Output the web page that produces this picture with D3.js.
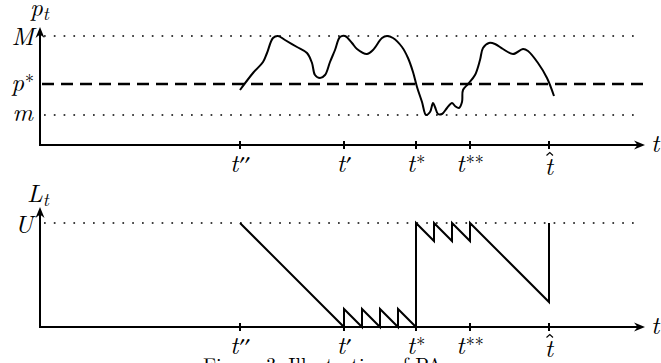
<!DOCTYPE html>
<html>
<head>
<meta charset="utf-8">
<script src="https://cdn.jsdelivr.net/npm/d3@7"></script>
<style>
  body { margin: 0; background: #fff; }
  svg { display: block; }
</style>
</head>
<body>
<svg id="chart" width="661" height="363"></svg>
<script>
// price path p_t (time, price)
var priceT = [200, 213, 223, 227, 233, 238, 245, 257, 267, 272, 275, 280, 285, 290, 295, 300, 305, 312, 317, 327,
  333, 342, 347, 353, 362, 368, 373, 377, 382, 386, 390, 393, 395, 398, 402, 407, 412, 415, 419, 422,
  423, 428, 435, 440, 443, 449, 455, 463, 473, 483, 488, 498, 507, 514];
var priceP = [55, 72, 83, 92, 107, 109, 105, 98, 92, 82, 70, 67, 70, 83, 95, 108, 109, 102, 96, 91,
  95, 107, 109, 107, 98, 87, 73, 58, 43, 30, 33, 42, 38, 31, 31, 37, 42, 39, 37, 43,
  55, 61, 70, 85, 97, 102, 101, 96, 91, 96, 94, 82, 67, 49];

// L_t vertices (time, level)
var levelT = [200, 304, 304, 322, 322, 340, 340, 358, 358, 376, 376, 394, 394, 412, 412, 430, 430, 509, 509];
var levelL = [104, 0, 18, 0, 18, 0, 18, 0, 18, 0, 104, 86, 104, 86, 104, 86, 104, 25, 104];

var tickT = [200, 304, 376, 430, 509];
var tickSup = ['\u2032\u2032', '\u2032', '*', '**', ''];
var tickHat = [false, false, false, false, true];

var priceLevels = { M: 109, pStar: 61, m: 30 };
var levelU = 104;
var T_MAX = 605;

(function () {
  const MATH_FONT = '"Latin Modern Roman", "Liberation Serif", serif';
  var svg = d3.select('#chart');
  var x = d3.scaleLinear().domain([0, T_MAX]).range([40, 645]);
  var yTop = d3.scaleLinear().domain([0, 118]).range([145, 27]);
  var yBot = d3.scaleLinear().domain([0, 120]).range([327, 207]);

  function arrowHead (g, px, py, angle) {
    g.append('path')
      .attr('d', 'M0,0 L-11,-4.5 L-7.5,0 L-11,4.5 Z')
      .attr('transform', 'translate(' + px + ',' + py + ') rotate(' + angle + ')')
      .attr('fill', '#000');
  }

  function dashedLine (g, y) {
    g.append('line')
      .attr('x1', x(0)).attr('x2', 645)
      .attr('y1', y).attr('y2', y)
      .attr('stroke', '#000')
      .attr('stroke-width', 2.4)
      .attr('stroke-dasharray', '12 7')
      .attr('stroke-dashoffset', -2);
  }

  function dotted (g, y) {
    g.append('line')
      .attr('x1', x(0) + 4).attr('x2', 640)
      .attr('y1', y).attr('y2', y)
      .attr('stroke', '#000')
      .attr('stroke-width', 1.7)
      .attr('stroke-dasharray', '1.7 8.1');
  }

  function mathLabel (g, px, py, main, sup, sub, anchor) {
    var t = g.append('text')
      .attr('x', px).attr('y', py)
      .attr('text-anchor', anchor || 'start')
      .style('font-family', MATH_FONT)
      .style('font-style', 'italic')
      .style('font-size', '25px');
    t.append('tspan').text(main);
    if (sup && sup.indexOf('*') >= 0) {
      t.append('tspan')
        .attr('dx', 1).attr('dy', -3)
        .style('font-size', '18px')
        .style('font-style', 'normal')
        .text(sup);
    } else if (sup) {
      t.append('tspan')
        .attr('dx', 1).attr('dy', -1)
        .style('font-size', '21px')
        .style('font-style', 'normal')
        .style('font-family', '"FreeSerif", "DejaVu Serif", serif')
        .text(sup);
    }
    if (sub) {
      t.append('tspan')
        .attr('dy', 4)
        .style('font-size', '18px')
        .text(sub);
    }
    return t;
  }

  function drawAxes (g, y, yTopPx) {
    g.append('line')
      .attr('x1', x(0)).attr('x2', x(T_MAX) - 4)
      .attr('y1', y(0)).attr('y2', y(0))
      .attr('stroke', '#000').attr('stroke-width', 2);
    arrowHead(g, x(T_MAX), y(0), 0);
    g.append('line')
      .attr('x1', x(0)).attr('x2', x(0))
      .attr('y1', y(0) + 1).attr('y2', yTopPx + 4)
      .attr('stroke', '#000').attr('stroke-width', 2);
    arrowHead(g, x(0), yTopPx, -90);

    tickT.forEach(function (t, i) {
      g.append('line')
        .attr('x1', x(t)).attr('x2', x(t))
        .attr('y1', y(0) - 4).attr('y2', y(0) + 4)
        .attr('stroke', '#000').attr('stroke-width', 2);
      // the accent pushes the hatted label a little lower
      var base = tickHat[i] ? y(0) + 30 : y(0) + 27;
      mathLabel(g, x(t), base, 't', tickSup[i], null, 'middle');
      if (tickHat[i]) {
        g.append('path')
          .attr('d', 'M' + (x(t) - 2.5) + ',' + (y(0) + 10.5) + ' L' + (x(t) + 0.8) + ',' + (y(0) + 7.5) + ' L' + (x(t) + 4) + ',' + (y(0) + 10.5))
          .attr('fill', 'none').attr('stroke', '#000').attr('stroke-width', 1.1);
      }
    });
    mathLabel(g, 651, y(0) + 7, 't');
  }

  // top panel: price
  var top = svg.append('g');
  dotted(top, yTop(priceLevels.M));
  dotted(top, yTop(priceLevels.m));
  dashedLine(top, yTop(priceLevels.pStar));
  drawAxes(top, yTop, 27);
  mathLabel(top, 30, 16, 'p', null, 't');
  mathLabel(top, 34, 45, 'M', null, null, 'end');
  mathLabel(top, 34, 91, 'p', '*', null, 'end');
  mathLabel(top, 33, 121, 'm', null, null, 'end');

  var priceLine = d3.line()
    .x(function (d) { return x(d[0]); })
    .y(function (d) { return yTop(d[1]); })
    .curve(d3.curveCatmullRom.alpha(0.5));
  top.append('path')
    .datum(d3.zip(priceT, priceP))
    .attr('d', priceLine)
    .attr('fill', 'none')
    .attr('stroke', '#000')
    .attr('stroke-width', 2)
    .attr('stroke-linejoin', 'round');

  // bottom panel: L_t
  var bot = svg.append('g');
  dotted(bot, yBot(levelU));
  drawAxes(bot, yBot, 207);
  mathLabel(bot, 27, 202, 'L', null, 't');
  mathLabel(bot, 33, 233, 'U', null, null, 'end');

  var levelLine = d3.line()
    .x(function (d) { return x(d[0]); })
    .y(function (d) { return yBot(d[1]); });
  bot.append('path')
    .datum(d3.zip(levelT, levelL))
    .attr('d', levelLine)
    .attr('fill', 'none')
    .attr('stroke', '#000')
    .attr('stroke-width', 2)
    .attr('stroke-linejoin', 'miter');

  svg.append('text')
    .attr('x', 203).attr('y', 372)
    .style('font-family', MATH_FONT)
    .style('font-size', '20px')
    .text('Figure 3: Illustration of PA');
}());
</script>
</body>
</html>
